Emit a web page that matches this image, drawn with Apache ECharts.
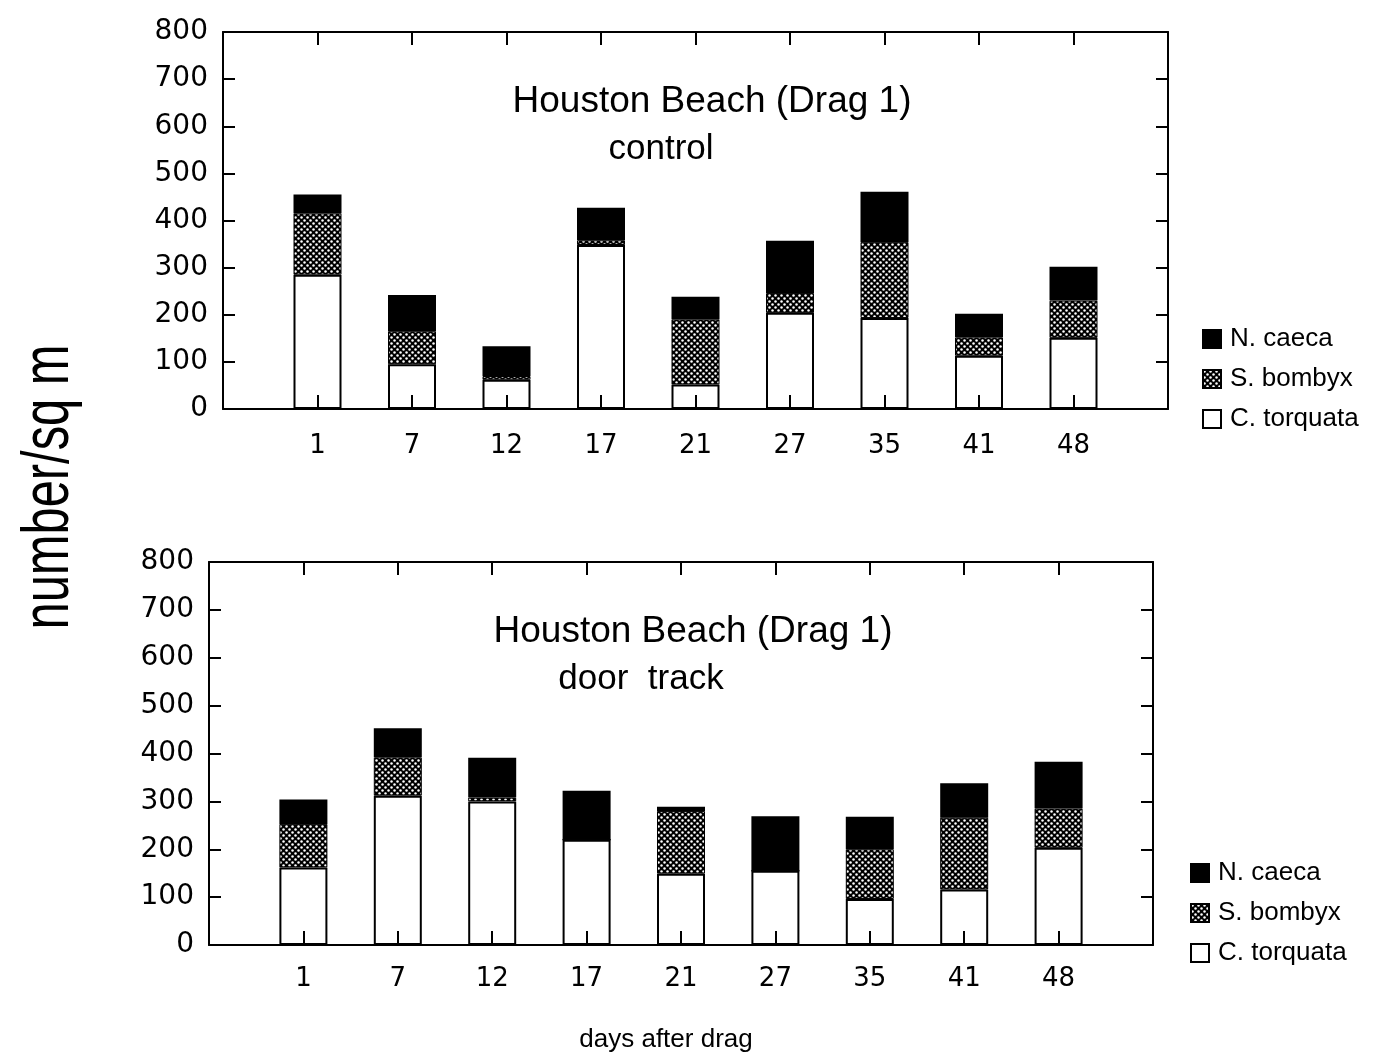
<!DOCTYPE html>
<html>
<head>
<meta charset="utf-8">
<script src="https://cdn.jsdelivr.net/npm/echarts@6/dist/echarts.min.js"></script>
<style>
html,body{margin:0;padding:0;background:#fff;}
#chart{width:1400px;height:1057px;}
</style>
</head>
<body>
<div id="chart"></div>
<script>
// ---- data ----
const days = ['1', '7', '12', '17', '21', '27', '35', '41', '48'];
const speciesNames = ['N. caeca', 'S. bombyx', 'C. torquata'];
const yTicks = [0, 100, 200, 300, 400, 500, 600, 700, 800];

// top panel: control
const controlTorquata = [285, 95, 62, 348, 52, 204, 193, 113, 151];
const controlBombyx   = [130, 70, 8, 10, 138, 42, 161, 39, 79];
const controlCaeca    = [40, 77, 63, 69, 48, 111, 107, 50, 72];

// bottom panel: door track
const doorTorquata = [162, 312, 300, 220, 149, 155, 96, 116, 203];
const doorBombyx   = [91, 80, 8, 0, 131, 0, 104, 150, 82];
const doorCaeca    = [51, 61, 83, 102, 9, 114, 68, 72, 98];

// ---- styling helpers ----
function makePattern() {
  const c = document.createElement('canvas');
  c.width = 6; c.height = 6;
  const g = c.getContext('2d');
  g.fillStyle = '#000';
  g.fillRect(0, 0, 6, 6);
  g.fillStyle = '#fff';
  [[1.5, 1.5], [4.5, 4.5]].forEach(function (p) {
    g.beginPath(); g.arc(p[0], p[1], 1.25, 0, Math.PI * 2); g.fill();
  });
  return c;
}
const hatch = { image: makePattern(), repeat: 'repeat' };

const pad = function (arr) { return [null].concat(arr, [null]); };
const cats = [''].concat(days, ['']);

const FONT = 'DejaVu Sans';
const TFONT = 'Liberation Sans';
const line = { show: true, onZero: false, lineStyle: { color: '#000', width: 2 } };

function xAxes(gridIndex, margin) {
  return [
    {
      type: 'category', gridIndex: gridIndex, data: cats, boundaryGap: false, zlevel: 1, z: 10,
      axisLine: line,
      axisTick: { show: true, inside: true, length: 14, lineStyle: { color: '#000', width: 2 } },
      axisLabel: { color: '#000', fontFamily: FONT, fontSize: 26, margin: margin },
      splitLine: { show: false }
    },
    {
      type: 'category', gridIndex: gridIndex, position: 'top', data: cats, boundaryGap: false,
      axisLine: line,
      axisTick: { show: true, inside: true, length: 13, lineStyle: { color: '#000', width: 2 } },
      axisLabel: { show: false }, splitLine: { show: false }
    }
  ];
}
function yAxes(gridIndex) {
  return [
    {
      type: 'value', gridIndex: gridIndex, min: 0, max: 800, interval: 100,
      axisLine: line,
      axisTick: { show: true, inside: true, length: 12, lineStyle: { color: '#000', width: 2 } },
      axisLabel: { color: '#000', fontFamily: FONT, fontSize: 28, margin: 15,
        formatter: function (v) { return yTicks.indexOf(v) >= 0 ? String(v) : ''; } },
      splitLine: { show: false }
    },
    {
      type: 'value', gridIndex: gridIndex, position: 'right', min: 0, max: 800, interval: 100,
      axisLine: line,
      axisTick: { show: true, inside: true, length: 12, lineStyle: { color: '#000', width: 2 } },
      axisLabel: { show: false }, splitLine: { show: false }
    }
  ];
}
function stackSeries(gridIdx, torq, bomb, caec) {
  const xi = gridIdx * 2, yi = gridIdx * 2;
  const base = {
    type: 'bar', stack: 'p' + gridIdx, xAxisIndex: xi, yAxisIndex: yi, barWidth: 48,
    animation: false
  };
  return [
    Object.assign({}, base, { name: 'C. torquata', data: pad(torq),
      itemStyle: { color: '#fff', borderColor: '#000', borderWidth: 2 } }),
    Object.assign({}, base, { name: 'S. bombyx', data: pad(bomb),
      itemStyle: { color: hatch, borderColor: '#000', borderWidth: 1 } }),
    Object.assign({}, base, { name: 'N. caeca', data: pad(caec),
      itemStyle: { color: '#000', borderColor: '#000', borderWidth: 2 } })
  ];
}
function legend(left, top) {
  return {
    orient: 'vertical', left: left, top: top, data: speciesNames,
    icon: 'rect', itemWidth: 18, itemHeight: 18, itemGap: 14,
    textStyle: { color: '#000', fontFamily: TFONT, fontSize: 26, lineHeight: 26, padding: [0, 0, 0, 4] },
    selectedMode: false
  };
}

const chart = echarts.init(document.getElementById('chart'), null, { renderer: 'canvas' });
chart.setOption({
  backgroundColor: '#fff',
  animation: false,
  grid: [
    { left: 223, width: 945, top: 32, height: 377 },
    { left: 209, width: 944, top: 562, height: 383 }
  ],
  xAxis: xAxes(0, 24).concat(xAxes(1, 21)),
  yAxis: yAxes(0).concat(yAxes(1)),
  legend: [legend(1197, 321), legend(1185, 855)],
  series: stackSeries(0, controlTorquata, controlBombyx, controlCaeca)
    .concat(stackSeries(1, doorTorquata, doorBombyx, doorCaeca)),
  graphic: [
    { type: 'text', x: 712, y: 102, style: { text: 'Houston Beach (Drag 1)', fontFamily: TFONT, fontSize: 37,
      fill: '#000', textAlign: 'center', textVerticalAlign: 'middle' } },
    { type: 'text', x: 661, y: 149, style: { text: 'control', fontFamily: TFONT, fontSize: 35,
      fill: '#000', textAlign: 'center', textVerticalAlign: 'middle' } },
    { type: 'text', x: 693, y: 632, style: { text: 'Houston Beach (Drag 1)', fontFamily: TFONT, fontSize: 37,
      fill: '#000', textAlign: 'center', textVerticalAlign: 'middle' } },
    { type: 'text', x: 641, y: 679, style: { text: 'door  track', fontFamily: TFONT, fontSize: 35,
      fill: '#000', textAlign: 'center', textVerticalAlign: 'middle' } },
    { type: 'text', x: 666, y: 1040, style: { text: 'days after drag', fontFamily: TFONT, fontSize: 26,
      fill: '#000', textAlign: 'center', textVerticalAlign: 'middle' } },
    { type: 'text', x: 50, y: 487, rotation: Math.PI / 2, scaleX: 0.74,
      style: { text: 'number/sq m', fontFamily: TFONT, fontSize: 66,
      fill: '#000', textAlign: 'center', textVerticalAlign: 'middle' } }
  ]
});
</script>
</body>
</html>
